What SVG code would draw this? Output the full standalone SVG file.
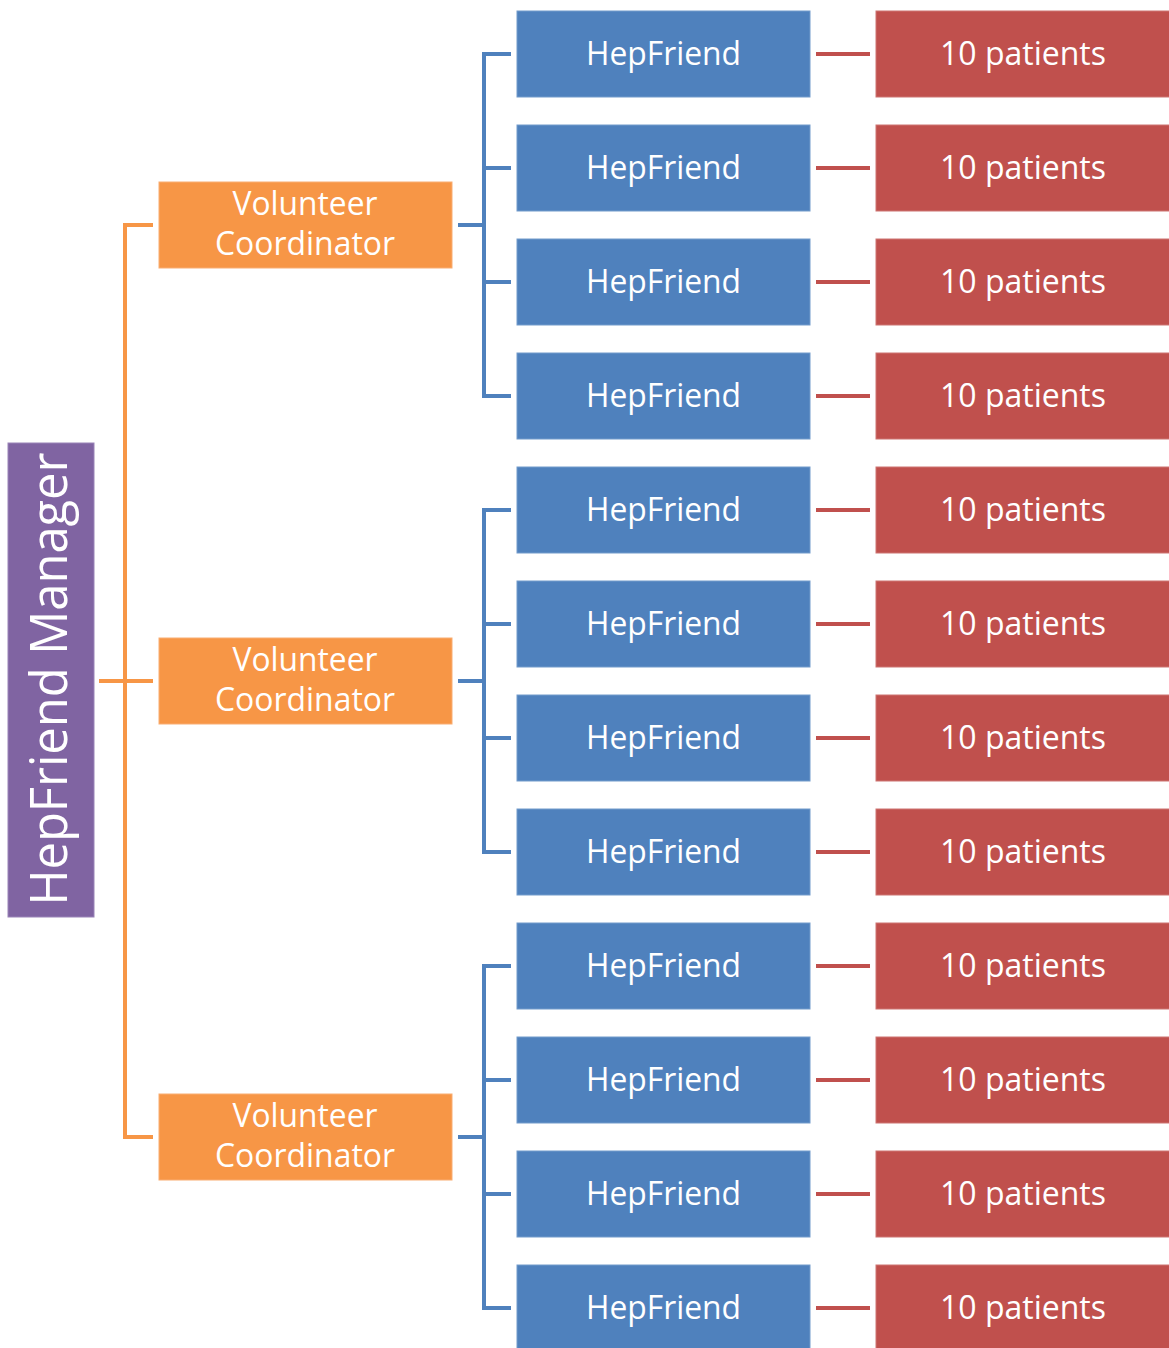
<svg xmlns="http://www.w3.org/2000/svg" width="1169" height="1348" viewBox="0 0 1169 1348">
<style>
text{font-family:"Open Sans","Noto Sans",sans-serif;fill:#fff;text-anchor:middle}
.t{font-size:32px}
.mgr{fill:#8064A2;stroke:#9a84b8;stroke-width:1}
.vc{fill:#F79646;stroke:#f9ad72;stroke-width:1}
.hf{fill:#4F81BD;stroke:#739bcb;stroke-width:1}
.pt{fill:#C0504D;stroke:#cd7472;stroke-width:1}
.co{fill:none;stroke:#F79646;stroke-width:4}
.cb{fill:none;stroke:#4F81BD;stroke-width:4}
.cr{fill:none;stroke:#C0504D;stroke-width:4}
</style>
<defs>
<g id="hfn"><rect class="hf" x="517" y="11" width="293" height="86"/><text class="t" x="663.5" y="65" textLength="155" lengthAdjust="spacingAndGlyphs">HepFriend</text></g>
<g id="ptn"><rect class="pt" x="876" y="11" width="300" height="86"/><text class="t" x="1023" y="65" textLength="166" lengthAdjust="spacingAndGlyphs">10 patients</text></g>
</defs>
<g id="connectors">
<path class="co" d="M99 681H125M153 225H125V1137H153M125 681H153"/>
<path class="cb" d="M458 225H484M511 54H484V396H511M484 168H511M484 282H511"/>
<path class="cb" d="M458 681H484M511 510H484V852H511M484 624H511M484 738H511"/>
<path class="cb" d="M458 1137H484M511 966H484V1308H511M484 1080H511M484 1194H511"/>
<path class="cr" d="M816 54H870M816 168H870M816 282H870M816 396H870M816 510H870M816 624H870M816 738H870M816 852H870M816 966H870M816 1080H870M816 1194H870M816 1308H870"/>
</g>
<g id="manager"><rect class="mgr" x="8" y="443" width="86" height="474"/><text transform="translate(67,679) rotate(-90)" font-size="52" textLength="453" lengthAdjust="spacingAndGlyphs">HepFriend Manager</text></g>
<g id="vc1"><rect class="vc" x="159" y="182" width="293" height="86"/><text class="t" x="305" y="215" textLength="145" lengthAdjust="spacingAndGlyphs">Volunteer</text><text class="t" x="305" y="255" textLength="180" lengthAdjust="spacingAndGlyphs">Coordinator</text></g>
<g id="vc2"><rect class="vc" x="159" y="638" width="293" height="86"/><text class="t" x="305" y="671" textLength="145" lengthAdjust="spacingAndGlyphs">Volunteer</text><text class="t" x="305" y="711" textLength="180" lengthAdjust="spacingAndGlyphs">Coordinator</text></g>
<g id="vc3"><rect class="vc" x="159" y="1094" width="293" height="86"/><text class="t" x="305" y="1127" textLength="145" lengthAdjust="spacingAndGlyphs">Volunteer</text><text class="t" x="305" y="1167" textLength="180" lengthAdjust="spacingAndGlyphs">Coordinator</text></g>
<g id="hf1"><use href="#hfn"/></g>
<g id="hf2"><use href="#hfn" y="114"/></g>
<g id="hf3"><use href="#hfn" y="228"/></g>
<g id="hf4"><use href="#hfn" y="342"/></g>
<g id="hf5"><use href="#hfn" y="456"/></g>
<g id="hf6"><use href="#hfn" y="570"/></g>
<g id="hf7"><use href="#hfn" y="684"/></g>
<g id="hf8"><use href="#hfn" y="798"/></g>
<g id="hf9"><use href="#hfn" y="912"/></g>
<g id="hf10"><use href="#hfn" y="1026"/></g>
<g id="hf11"><use href="#hfn" y="1140"/></g>
<g id="hf12"><use href="#hfn" y="1254"/></g>
<g id="pt1"><use href="#ptn"/></g>
<g id="pt2"><use href="#ptn" y="114"/></g>
<g id="pt3"><use href="#ptn" y="228"/></g>
<g id="pt4"><use href="#ptn" y="342"/></g>
<g id="pt5"><use href="#ptn" y="456"/></g>
<g id="pt6"><use href="#ptn" y="570"/></g>
<g id="pt7"><use href="#ptn" y="684"/></g>
<g id="pt8"><use href="#ptn" y="798"/></g>
<g id="pt9"><use href="#ptn" y="912"/></g>
<g id="pt10"><use href="#ptn" y="1026"/></g>
<g id="pt11"><use href="#ptn" y="1140"/></g>
<g id="pt12"><use href="#ptn" y="1254"/></g>
</svg>
